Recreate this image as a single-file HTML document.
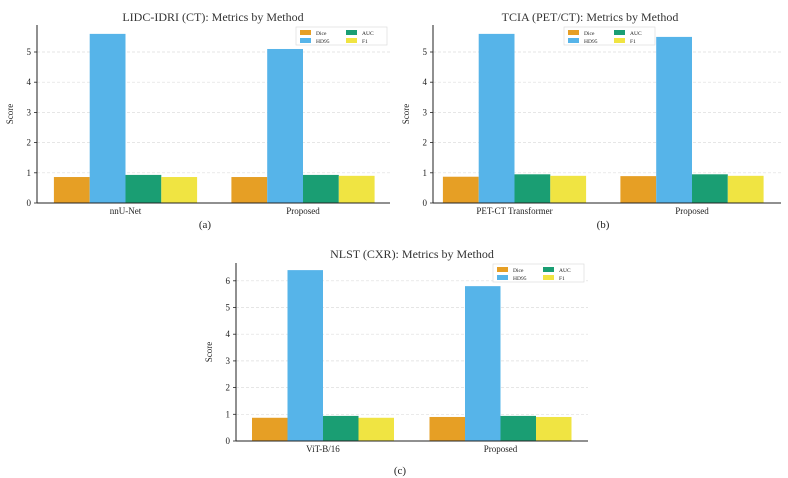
<!DOCTYPE html>
<html><head><meta charset="utf-8"><style>
body{margin:0;background:#fff}
svg{display:block;font-family:"Liberation Serif",serif}
</style></head><body>
<svg id="fig" width="788" height="478" viewBox="0 0 788 478" xmlns="http://www.w3.org/2000/svg"></svg>
<script>
const metrics = ["Dice","HD95","AUC","F1"];
const colors = ["#E69F25","#56B4E9","#1A9E73","#F0E442"];
const catsA = ["nnU-Net","Proposed"];
const valsA = [[0.86,5.6,0.93,0.86],[0.86,5.1,0.93,0.90]];
const catsB = ["PET-CT Transformer","Proposed"];
const valsB = [[0.87,5.6,0.95,0.90],[0.89,5.5,0.95,0.90]];
const catsC = ["ViT-B/16","Proposed"];
const valsC = [[0.87,6.4,0.94,0.87],[0.90,5.8,0.94,0.90]];
const ticksA = [0,1,2,3,4,5];
const ticksC = [0,1,2,3,4,5,6];

const NS="http://www.w3.org/2000/svg";
const svg=document.getElementById('fig');
function mk(tag,attrs,parent,text){const e=document.createElementNS(NS,tag);for(const k in attrs)e.setAttribute(k,attrs[k]);if(text!==undefined)e.textContent=text;(parent||svg).appendChild(e);return e;}

function panel(p){
  const g=mk('g',{});
  
  
  const y=v=>p.y0-(v)*p.unit;
  const groupW=p.barW*4;
  // grid
  p.ticks.forEach(t=>{
    if(t>0){const l=mk('line',{x1:p.x0,x2:p.x1,y1:y(t),y2:y(t),stroke:'#ddd','stroke-width':0.7,'stroke-dasharray':'3,2'},g);
    }
    const tx=mk('text',{x:p.x0-6,y:y(t)+3,'font-size':9,'text-anchor':'end',fill:'#222'},g,String(t));
    
    mk('line',{x1:p.x0-3,x2:p.x0,y1:y(t),y2:y(t),stroke:'#222','stroke-width':0.8},g);
  });
  p.cats.forEach((c,i)=>{
    const cx=p.centers[i];
    p.vals[i].forEach((v,j)=>{
      const r=mk('rect',{x:cx-groupW/2+j*p.barW,y:y(v),width:p.barW,height:v*p.unit,fill:colors[j]},g);
      
      
    });
    const t=mk('text',{x:cx,y:p.y0+11,'font-size':9,'text-anchor':'middle',fill:'#222'},g,c);
    
  });
  mk('line',{x1:p.x0,x2:p.x0,y1:p.yTop,y2:p.y0,stroke:'#222','stroke-width':1},g);
  mk('line',{x1:p.x0,x2:p.x1,y1:p.y0,y2:p.y0,stroke:'#222','stroke-width':1},g);
  const tt=mk('text',{x:p.tx,y:p.ty,'font-size':12,'text-anchor':'middle',fill:'#333'},g,p.title);
  
  const yl=mk('text',{x:0,y:0,'font-size':9,'text-anchor':'middle',fill:'#222',transform:`translate(${p.x0-24},${(p.yTop+p.y0)/2}) rotate(-90)`},g,'Score');
  
  const cap=mk('text',{x:p.cx,y:p.cy,'font-size':11,'text-anchor':'middle',fill:'#222'},g,p.cap);
  
  // legend
  const lg=mk('g',{},g);
  
  mk('rect',{x:p.lx,y:p.ly,width:91,height:18,fill:'#fff',stroke:'#ddd','stroke-width':0.7},lg);
  metrics.forEach((m,j)=>{
    const col=j===0||j===1?0:1,row=j%2;
    const ex=p.lx+4+col*46,ey=p.ly+3+row*8;
    const e=mk('g',{},lg);
    
    mk('rect',{x:ex,y:ey,width:11,height:5,fill:colors[j]},e);
    mk('text',{x:ex+16,y:ey+5,'font-size':5.5,fill:'#222'},e,m);
  });
}
panel({name:'panel-a',cats:catsA,vals:valsA,ticks:ticksA,x0:37,x1:390,y0:203,yTop:25,unit:30.2,barW:35.8,centers:[125.5,303],title:'LIDC-IDRI (CT): Metrics by Method',tx:213,ty:21,cap:'(a)',cx:205,cy:228,lx:296,ly:27});
panel({name:'panel-b',cats:catsB,vals:valsB,ticks:ticksA,x0:433,x1:781,y0:203,yTop:25,unit:30.2,barW:35.8,centers:[514.5,692],title:'TCIA (PET/CT): Metrics by Method',tx:590,ty:21,cap:'(b)',cx:603,cy:228,lx:564,ly:27});
panel({name:'panel-c',cats:catsC,vals:valsC,ticks:ticksC,x0:236,x1:588,y0:441,yTop:263,unit:26.7,barW:35.5,centers:[323,500.5],title:'NLST (CXR): Metrics by Method',tx:412,ty:258,cap:'(c)',cx:400,cy:474,lx:493,ly:264});
</script>
</body></html>
